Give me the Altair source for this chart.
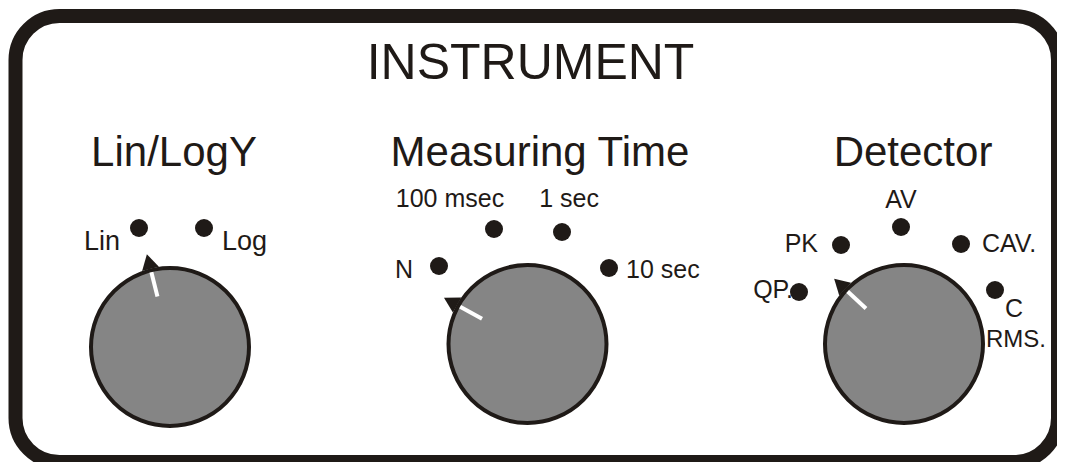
import math
import altair as alt
import pandas as pd

# ---- data ----
panel_title = ["INSTRUMENT"]
panel_title_x = [530.5]
panel_title_y = [79]

frame_x = [15.5]
frame_x2 = [1058]
frame_y = [16]
frame_y2 = [462]

knob_names = ["Lin/LogY", "Measuring Time", "Detector"]
knob_x = [170, 527.5, 904]
knob_y = [347, 344, 344]
knob_pointer_deg = [104, 151, 137]
title_x = [174, 540, 913]
title_y = [166, 166, 166]

dot_x = [139, 204, 439, 494, 562, 609, 799, 841, 901, 961, 995]
dot_y = [228, 228, 266, 229, 232, 268, 292, 245, 227, 244, 290]

label_text = ["Lin", "Log", "N", "100 msec", "1 sec", "10 sec",
              "QP.", "PK", "AV", "CAV.", "C", "RMS."]
label_x = [120, 222, 413, 450, 569, 626, 793, 818, 901, 982, 1014, 1046]
label_y = [250, 250, 278, 207, 207, 278, 298, 252, 208, 252, 317, 347]
label_size = [27, 27, 25, 25, 25, 25, 25, 25, 25, 25, 25, 24]
label_align = ["right", "left", "right", "center", "center", "left",
               "right", "right", "center", "left", "center", "right"]

# ---- styling ----
INK = "#1f1a17"
KNOB = "#858585"
FONT = "Liberation Sans"

xs = alt.Scale(domain=[8, 1057], nice=False, zero=False)
ys = alt.Scale(domain=[8, 462], nice=False, zero=False, reverse=True)


def X(f="x"):
    return alt.X(f"{f}:Q", scale=xs, axis=None)


def Y(f="y"):
    return alt.Y(f"{f}:Q", scale=ys, axis=None)


frame_df = pd.DataFrame({"x": frame_x, "x2": frame_x2, "y": frame_y, "y2": frame_y2})
frame = alt.Chart(frame_df).mark_rect(
    fillOpacity=0, stroke=INK, strokeWidth=14, cornerRadius=44
).encode(x=X(), x2="x2:Q", y=Y(), y2="y2:Q")

knob_df = pd.DataFrame({"name": knob_names, "x": knob_x, "y": knob_y,
                        "deg": knob_pointer_deg, "tx": title_x, "ty": title_y})
rad = knob_df["deg"] * math.pi / 180
knob_df["px1"] = knob_df["x"] + 52 * rad.apply(math.cos)
knob_df["py1"] = knob_df["y"] - 52 * rad.apply(math.sin)
knob_df["px2"] = knob_df["x"] + 77 * rad.apply(math.cos)
knob_df["py2"] = knob_df["y"] - 77 * rad.apply(math.sin)
knob_df["trx"] = knob_df["x"] + 88 * rad.apply(math.cos)
knob_df["try_"] = knob_df["y"] - 88 * rad.apply(math.sin)
knob_df["rot"] = (90 - knob_df["deg"]) % 360

knobs = alt.Chart(knob_df).mark_point(
    shape="circle", filled=True, size=158 * 158, fill=KNOB, stroke=INK,
    strokeWidth=4, opacity=1
).encode(x=X(), y=Y())

tri = alt.Chart(knob_df).mark_point(
    shape="triangle-up", filled=True, size=300, color=INK, opacity=1
).encode(x=X("trx"), y=Y("try_"), angle=alt.Angle("rot:Q", scale=None))

pointer = alt.Chart(knob_df).mark_rule(
    color="white", strokeWidth=4, strokeCap="butt"
).encode(x=X("px1"), y=Y("py1"), x2="px2:Q", y2="py2:Q")

titles = alt.Chart(knob_df).mark_text(
    font=FONT, fontSize=42, color=INK, baseline="alphabetic", align="center"
).encode(x=X("tx"), y=Y("ty"), text="name:N")

head_df = pd.DataFrame({"t": panel_title, "x": panel_title_x, "y": panel_title_y})
head = alt.Chart(head_df).mark_text(
    font=FONT, fontSize=50, color=INK, baseline="alphabetic", align="center"
).encode(x=X(), y=Y(), text="t:N")

dot_df = pd.DataFrame({"x": dot_x, "y": dot_y})
dots = alt.Chart(dot_df).mark_point(
    shape="circle", filled=True, size=324, color=INK, opacity=1
).encode(x=X(), y=Y())

lab_df = pd.DataFrame({"t": label_text, "x": label_x, "y": label_y,
                       "fs": label_size, "al": label_align})
label_layers = []
for a in ["left", "center", "right"]:
    label_layers.append(
        alt.Chart(lab_df).transform_filter(alt.datum.al == a).mark_text(
            font=FONT, color=INK, baseline="alphabetic", align=a
        ).encode(x=X(), y=Y(), text="t:N", size=alt.Size("fs:Q", scale=None))
    )

chart = alt.layer(frame, knobs, tri, pointer, dots, titles, head, *label_layers).properties(
    width=1049, height=454, padding=0, autosize="none", background="white"
).configure_view(stroke=None)

chart.save("out.html", embed_options={"renderer": "svg", "actions": False})
